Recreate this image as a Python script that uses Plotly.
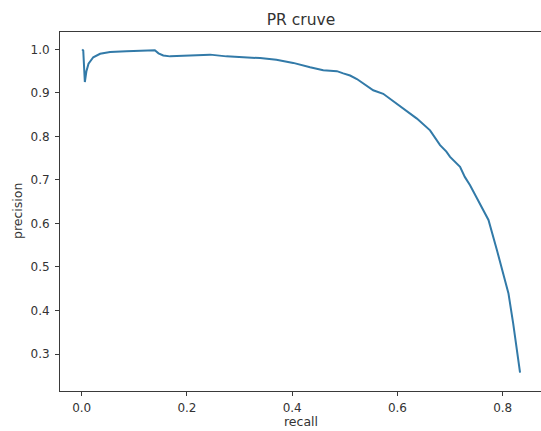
import plotly.graph_objects as go

recall = [0.001, 0.003, 0.006, 0.009, 0.013, 0.022, 0.035, 0.054, 0.085, 0.117,
          0.139, 0.146, 0.155, 0.168, 0.187, 0.215, 0.244, 0.275, 0.307, 0.339,
          0.370, 0.402, 0.434, 0.459, 0.472, 0.485, 0.497, 0.510, 0.523, 0.540,
          0.554, 0.573, 0.599, 0.620, 0.637, 0.662, 0.672, 0.681, 0.693, 0.700,
          0.719, 0.728, 0.738, 0.757, 0.773, 0.789, 0.801, 0.811, 0.820, 0.827,
          0.833]
precision = [1.000, 0.997, 0.925, 0.950, 0.967, 0.982, 0.990, 0.994, 0.996, 0.998,
             0.998, 0.991, 0.986, 0.984, 0.985, 0.987, 0.988, 0.984, 0.982, 0.980,
             0.976, 0.969, 0.959, 0.952, 0.951, 0.950, 0.945, 0.940, 0.932, 0.918,
             0.906, 0.898, 0.875, 0.857, 0.841, 0.814, 0.797, 0.780, 0.765, 0.753,
             0.730, 0.707, 0.688, 0.646, 0.608, 0.539, 0.485, 0.439, 0.370, 0.309,
             0.257]

x_ticks = [0.0, 0.2, 0.4, 0.6, 0.8]
y_ticks = [0.3, 0.4, 0.5, 0.6, 0.7, 0.8, 0.9, 1.0]

W, H = 541, 431
L, R, T, B = 60, 0, 32, 40

font = "DejaVu Sans"
txt = "#333333"
axc = "#3a3a3a"

fig = go.Figure()
fig.add_trace(go.Scatter(x=recall, y=precision, mode="lines",
                         line=dict(color="#327aa8", width=2), showlegend=False,
                         hoverinfo="skip"))

fig.update_layout(
    width=W, height=H,
    margin=dict(l=L, r=R, t=T, b=B, pad=0),
    paper_bgcolor="white", plot_bgcolor="white",
    font=dict(family=font, size=12, color=txt),
    hovermode=False,
    title=dict(text="PR cruve", x=(60 + 542) / 2 / W, xanchor="center",
               y=1 - 20 / H, yanchor="middle",
               font=dict(family=font, size=15.5, color=txt)),
    xaxis=dict(range=[-0.0412, 0.8728], tickvals=x_ticks,
               ticktext=[f"{v:.1f}" for v in x_ticks],
               showgrid=False, zeroline=False, showline=True, linecolor=axc,
               linewidth=1, mirror=True, ticks="outside", ticklen=4,
               tickcolor=axc, tickwidth=1, ticklabelstandoff=2),
    yaxis=dict(range=[0.215, 1.040], tickvals=y_ticks,
               ticktext=[f"{v:.1f}" for v in y_ticks],
               showgrid=False, zeroline=False, showline=True, linecolor=axc,
               linewidth=1, mirror=False, ticks="outside", ticklen=4,
               tickcolor=axc, tickwidth=1, ticklabelstandoff=3),
    annotations=[
        dict(text="recall", xref="paper", yref="paper",
             x=(301 - L) / (W - L - R), y=-(421 - (H - B)) / (H - T - B),
             xanchor="center", yanchor="middle", showarrow=False,
             font=dict(family=font, size=12.5, color=txt)),
        dict(text="precision", xref="paper", yref="paper",
             x=-(L - 17) / (W - L - R), y=(H - B - 211) / (H - T - B),
             xanchor="center", yanchor="middle", showarrow=False, textangle=-90,
             font=dict(family=font, size=12.5, color=txt)),
    ],
)

fig.write_html("out.html",
               config={"displayModeBar": False, "staticPlot": True},
               post_script="document.body.style.margin='0';document.body.style.overflow='hidden';")
